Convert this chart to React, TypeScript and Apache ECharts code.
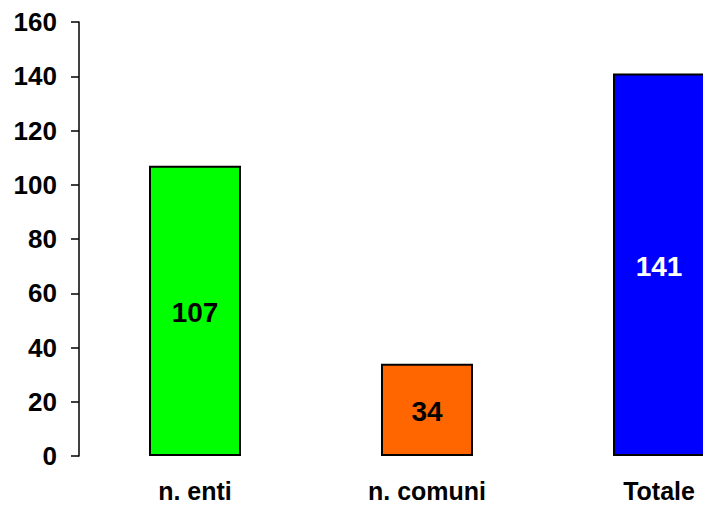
import React, { useEffect, useRef } from "react";
import * as echarts from "echarts";

const categories = ["n. enti", "n. comuni", "Totale"];
const values = [107, 34, 141];
const barColors = ["#00FF00", "#FF6600", "#0000FF"];
const labelColors = ["#000000", "#000000", "#FFFFFF"];

export default function App() {
  const ref = useRef<HTMLDivElement>(null);
  useEffect(() => {
    if (!ref.current) return;
    const chart = echarts.init(ref.current, null, { renderer: "svg" });
    const font = "'Liberation Sans', Arial, sans-serif";
    chart.setOption({
      animation: false,
      backgroundColor: "#ffffff",
      grid: { left: 79, top: 22, right: 0, bottom: 50, containLabel: false },
      xAxis: {
        type: "category",
        data: categories,
        axisLine: { show: false },
        axisTick: { show: false },
        axisLabel: {
          color: "#000",
          fontSize: 25,
          lineHeight: 22,
          fontWeight: "bold",
          fontFamily: font,
          margin: 24,
        },
      },
      yAxis: {
        type: "value",
        min: 0,
        max: 160,
        interval: 20,
        splitLine: { show: false },
        axisLine: { show: true, lineStyle: { color: "#000", width: 1.5 } },
        axisTick: { show: true, length: 8, lineStyle: { color: "#000", width: 1.5 } },
        axisLabel: {
          color: "#000",
          fontSize: 26,
          fontWeight: "bold",
          fontFamily: font,
          margin: 22,
          padding: [5, 0, 0, 0],
        },
      },
      series: [
        {
          type: "bar",
          barWidth: 92,
          data: values.map((v, i) => ({
            value: v,
            itemStyle: { color: barColors[i] },
            label: { color: labelColors[i] },
          })),
          itemStyle: { borderColor: "#000", borderWidth: 2 },
          label: {
            show: true,
            position: "inside",
            fontSize: 28,
            fontWeight: "bold",
            fontFamily: font,
            offset: [0, 2],
          },
        },
      ],
    });
    return () => chart.dispose();
  }, []);
  return (
    <div style={{ position: "absolute", left: 0, top: 0, width: 703, height: 506, overflow: "hidden", background: "#fff" }}>
      <div ref={ref} style={{ width: 775, height: 506 }} />
    </div>
  );
}
